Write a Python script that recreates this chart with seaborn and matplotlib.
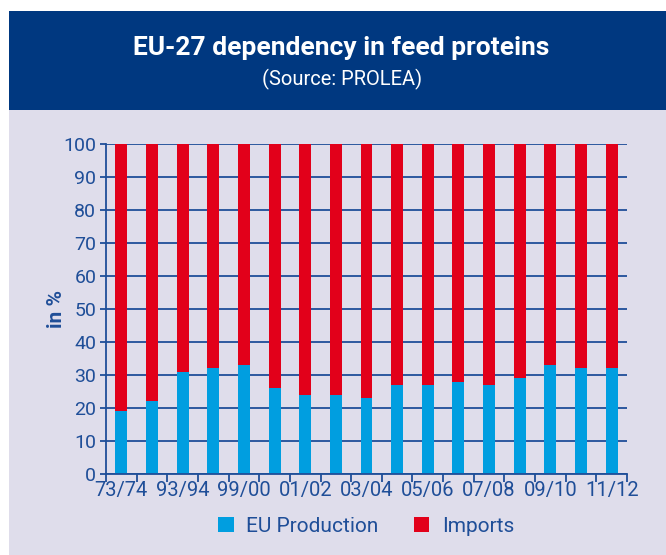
import matplotlib
matplotlib.use("Agg")
import matplotlib.pyplot as plt
from matplotlib.patches import Rectangle, Patch
import seaborn as sns
import pandas as pd
import numpy as np

# ---- data ----
seasons = ["73/74", "83/84", "93/94", "96/97", "99/00", "00/01", "01/02", "02/03",
           "03/04", "04/05", "05/06", "06/07", "07/08", "08/09", "09/10", "10/11", "11/12"]
tick_labels = ["73/74", "", "93/94", "", "99/00", "", "01/02", "", "03/04", "",
               "05/06", "", "07/08", "", "09/10", "", "11/12"]
eu_production = [19, 22, 31, 32, 33, 26, 24, 24, 23, 27, 27, 28, 27, 29, 33, 32, 32]
imports = [81, 78, 69, 68, 67, 74, 76, 76, 77, 73, 73, 72, 73, 71, 67, 68, 68]

BLUE = "#009EE0"
RED = "#E2001A"
NAVY = "#003880"
TXT = "#1F4E98"
BG = "#DFDDEB"

sns.set_theme(style="white")
plt.rcParams["font.family"] = ["Roboto", "DejaVu Sans"]

df = pd.DataFrame({
    "season": seasons,
    "EU Production": eu_production,
    "total": [p + i for p, i in zip(eu_production, imports)],
})

fig = plt.figure(figsize=(6.66, 5.55), dpi=100)
fig.patch.set_facecolor("white")
# background panel and header
fig.add_artist(Rectangle((9 / 666, 0), 1 - 9 / 666, 1 - 110 / 555,
                         transform=fig.transFigure, facecolor=BG, edgecolor="none", zorder=0))
fig.add_artist(Rectangle((9 / 666, 1 - 110 / 555), 1 - 9 / 666, (110 - 11) / 555,
                         transform=fig.transFigure, facecolor=NAVY, edgecolor="none", zorder=0))
fig.text(0.513, 1 - 48 / 555, "EU-27 dependency in feed proteins", color="white",
         fontsize=19, fontweight="bold", ha="center", va="center")
fig.text(0.513, 1 - 79 / 555, "(Source: PROLEA)", color="white",
         fontsize=14.5, fontweight="normal", ha="center", va="center")

ax = fig.add_axes([106 / 666, 81 / 555, (627 - 106) / 666, (474 - 144) / 555])
ax.set_facecolor("none")

sns.barplot(data=df, x="season", y="total", color=RED, width=0.39, ax=ax,
            saturation=1, edgecolor="none", zorder=3)
sns.barplot(data=df, x="season", y="EU Production", color=BLUE, width=0.39, ax=ax,
            saturation=1, edgecolor="none", zorder=4)

ax.set_ylim(0, 100)
ax.set_xlim(-0.5, len(seasons) - 0.5)
ax.set_yticks(np.arange(0, 101, 10))
ax.yaxis.grid(True, color=TXT, linewidth=1.3, zorder=1)
ax.set_axisbelow(True)

ax.set_xticks(np.arange(len(seasons)))
ax.set_xticklabels(tick_labels)
ax.set_xticks(np.arange(-0.5, len(seasons), 1), minor=True)
ax.tick_params(axis="x", which="major", length=0, pad=5, labelsize=14.5, labelcolor=TXT)
ax.tick_params(axis="x", which="minor", length=6, width=1.3, color=TXT, direction="out", bottom=True)
ax.tick_params(axis="y", length=4, width=1.3, color=TXT, labelsize=14, labelcolor=TXT, pad=3, left=True)

for s in ["top", "right"]:
    ax.spines[s].set_visible(False)
for s in ["left", "bottom"]:
    ax.spines[s].set_color(TXT)
    ax.spines[s].set_linewidth(1.3)
    ax.spines[s].set_zorder(5)

ax.set_xlabel("")
ax.set_ylabel("in %", color=TXT, fontsize=15, fontweight="bold", labelpad=-2)

handles = [Patch(facecolor=BLUE, edgecolor="none", label="EU Production"),
           Patch(facecolor=RED, edgecolor="none", label="Imports")]
fig.legend(handles=handles, loc="center", bbox_to_anchor=(366 / 666, 1 - 526 / 555),
           ncol=2, frameon=False, fontsize=15, labelcolor=TXT,
           handlelength=0.75, handleheight=0.75, handletextpad=0.6, columnspacing=1.7)

fig.savefig("out.png", dpi=100, facecolor=fig.get_facecolor())
